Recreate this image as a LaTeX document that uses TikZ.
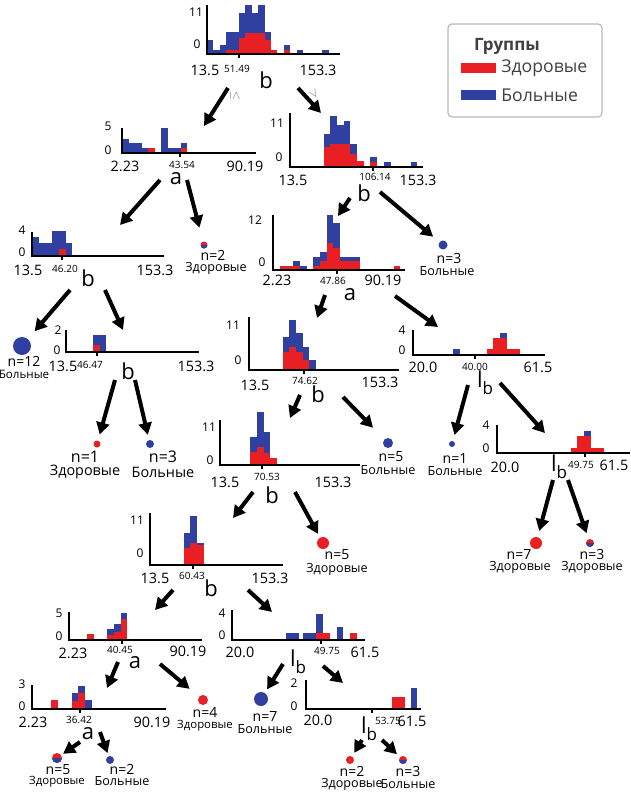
\documentclass[tikz,border=0pt]{standalone}
\usepackage{fontspec}
\setmainfont{Open Sans}
\usepackage{tikz}
\usetikzlibrary{arrows.meta}

\definecolor{healthy}{RGB}{232,32,36}
\definecolor{sick}{RGB}{48,64,160}
\newcommand{\lbsplit}{l\raisebox{-0.3em}{\fontsize{8.5}{8}\selectfont b}}

\begin{document}
\begin{tikzpicture}[x=0.5pt,y=-0.5pt,
  axis/.style={line width=1pt},
  arr/.style={line width=2pt,-{Triangle[length=6pt,width=6.5pt]}},
  ylab/.style={font=\fontsize{6}{6}\selectfont,inner sep=0pt},
  xlab/.style={font=\fontsize{7.2}{7}\selectfont,inner sep=0pt},
  thr/.style={font=\fontsize{5}{5}\selectfont,inner sep=0pt},
  split/.style={font=\fontsize{11}{11}\selectfont,inner sep=0pt},
  leaf/.style={circle,inner sep=0pt},
  hleaf/.style={leaf,fill=healthy},
  sleaf/.style={leaf,fill=sick},
  mleaf/.style={leaf,fill=healthy,path picture={\fill[sick] (path picture bounding box.west) rectangle (path picture bounding box.south east);}},
  nlab/.style={font=\fontsize{7}{7}\selectfont,inner sep=0pt},
  clab/.style={font=\fontsize{6.3}{6}\selectfont,inner sep=0pt},
  legtxt/.style={font=\fontsize{8.8}{9}\selectfont,text=black!75,inner sep=0pt,anchor=west}]
\useasboundingbox (0,0) rectangle (631,792);

% legend
\draw[gray!55,rounded corners=2pt,line width=0.6pt] (448,24) rectangle (602,117);
\node[font=\bfseries\fontsize{8.5}{9}\selectfont,text=black!75] (legtitle) at (507,46) {Группы};
\fill[healthy] (461,63) rectangle (496,73);
\node[legtxt] (leghealthy) at (501,68) {Здоровые};
\fill[sick] (461,90) rectangle (496,100);
\node[legtxt] (legsick) at (501,95) {Больные};

% root, split b
\begin{scope}[shift={(207,54)}]
  \foreach \i/\t/\r in {0/13.7/0,1/4.3/0,2/8.7/0,3/22/3.7,4/22/3.7,5/41/16,6/49/21,7/41/21,8/49/21,9/22/13.7,10/4.3/4.3,12/8.7/4.3,14/4.3/0,18/4.3/0}{
    \fill[sick] (\i*6.4,0) rectangle ++(6.4,-\t);
    \fill[healthy] (\i*6.4,0) rectangle ++(6.4,-\r);
  }
  \draw[axis] (0,-49) -- (0,0) -- (133,0);
  \draw[axis] (32,0) -- ++(0,4);
\end{scope}
\node[ylab] at (196,12) {11};
\node[ylab] at (197,44) {0};
\node[xlab] at (205,70) {13.5};
\node[thr] at (237,69) {51.49};
\node[xlab] at (318,70) {153.3};
\node[split] (s1) at (266,80) {b};
\node[rotate=-90,text=gray,font=\fontsize{5}{5}\selectfont,inner sep=0pt] at (235,96) {$\leq$};
\node[rotate=-60,text=gray,font=\fontsize{5}{5}\selectfont,inner sep=0pt] at (314,94) {$>$};

% level 2 left, split a
\begin{scope}[shift={(122,153)}]
  \foreach \i/\t/\r in {0/14/0,1/10/0,2/10/0,3/5/0,4/5/5,6/25/0,7/5/0,8/5/0,9/10/5}{
    \fill[sick] (\i*6.5,0) rectangle ++(6.5,-\t);
    \fill[healthy] (\i*6.5,0) rectangle ++(6.5,-\r);
  }
  \draw[axis] (0,-25) -- (0,0) -- (134,0);
  \draw[axis] (58,0) -- ++(0,4);
\end{scope}
\node[ylab] at (108,126) {5};
\node[ylab] at (108,150) {0};
\node[xlab] at (125,166) {2.23};
\node[thr] at (182,165) {43.54};
\node[xlab] at (245,166) {90.19};
\node[split] (s2) at (176,179) {a};

% level 2 right, split b
\begin{scope}[shift={(290,167)}]
  \foreach \i/\t/\r in {5/33/20,6/51/23,7/42/23,8/46/23,9/23/13,10/6/6,12/10/5,14/5/0,18/5/0}{
    \fill[sick] (\i*6.7,0) rectangle ++(6.7,-\t);
    \fill[healthy] (\i*6.7,0) rectangle ++(6.7,-\r);
  }
  \draw[axis] (0,-54) -- (0,0) -- (133,0);
  \draw[axis] (83,0) -- ++(0,4);
\end{scope}
\node[ylab] at (277,123) {11};
\node[ylab] at (279,157) {0};
\node[xlab] at (293,180) {13.5};
\node[thr] at (375,177) {106.14};
\node[xlab] at (418,180) {153.3};
\node[split] (s3) at (364,193) {b};

% level 3 left, split b
\begin{scope}[shift={(32,256)}]
  \foreach \i/\t/\r in {0/19/0,1/13/0,2/13/0,3/25/0,4/25/7,5/13/0}{
    \fill[sick] (\i*6.7,0) rectangle ++(6.7,-\t);
    \fill[healthy] (\i*6.7,0) rectangle ++(6.7,-\r);
  }
  \draw[axis] (0,-24) -- (0,0) -- (132,0);
  \draw[axis] (30,0) -- ++(0,4);
\end{scope}
\node[ylab] at (22,230) {4};
\node[ylab] at (22,252) {0};
\node[xlab] at (28,270) {13.5};
\node[thr] at (65,269) {46.20};
\node[xlab] at (155,270) {153.3};
\node[split] (s4) at (88,278) {b};

% level 4 left, split b
\begin{scope}[shift={(66,352)}]
  \foreach \i/\t/\r in {4/17/7,5/17/0}{
    \fill[sick] (\i*6.7,0) rectangle ++(6.7,-\t);
    \fill[healthy] (\i*6.7,0) rectangle ++(6.7,-\r);
  }
  \draw[axis] (0,-22) -- (0,0) -- (133,0);
  \draw[axis] (31,0) -- ++(0,4);
\end{scope}
\node[ylab] at (58,330) {2};
\node[ylab] at (57,350) {0};
\node[xlab] at (63,366) {13.5};
\node[thr] at (90,365) {46.47};
\node[xlab] at (196,366) {153.3};
\node[split] (s5) at (128,371) {b};

% level 3 middle, split a
\begin{scope}[shift={(273,270)}]
  \foreach \i/\t/\r in {1/4.3/4.3,2/4.3/4.3,3/9/4.3,4/4.3/0,6/13/4.3,7/18/9,8/55/27,9/47/22,10/13/9,11/13/9,12/13/9,18/4.3/4.3}{
    \fill[sick] (\i*6.7,0) rectangle ++(6.7,-\t);
    \fill[healthy] (\i*6.7,0) rectangle ++(6.7,-\r);
  }
  \draw[axis] (0,-55) -- (0,0) -- (132,0);
  \draw[axis] (64,0) -- ++(0,4);
\end{scope}
\node[ylab] at (255,220) {12};
\node[ylab] at (262,262) {0};
\node[xlab] at (277,280) {2.23};
\node[thr] at (333,281) {47.86};
\node[xlab] at (383,280) {90.19};
\node[split] (s6) at (350,295) {a};

% level 4 middle, split b
\begin{scope}[shift={(249,370)}]
  \foreach \i/\t/\r in {5/33/18,6/50/23,7/37/18,8/23/10,9/10/0}{
    \fill[sick] (\i*6.7,0) rectangle ++(6.7,-\t);
    \fill[healthy] (\i*6.7,0) rectangle ++(6.7,-\r);
  }
  \draw[axis] (0,-53) -- (0,0) -- (150,0);
  \draw[axis] (55,0) -- ++(0,4);
\end{scope}
\node[ylab] at (233,325) {11};
\node[ylab] at (238,360) {0};
\node[xlab] at (255,385) {13.5};
\node[thr] at (305,381) {74.62};
\node[xlab] at (380,382) {153.3};
\node[split] (s7) at (318,394) {b};

% level 4 right, split lb
\begin{scope}[shift={(413,355)}]
  \foreach \i/\t/\r in {6/6/0,11/6/6,12/17/17,13/22/17,14/6/6,15/6/6}{
    \fill[sick] (\i*6.7,0) rectangle ++(6.7,-\t);
    \fill[healthy] (\i*6.7,0) rectangle ++(6.7,-\r);
  }
  \draw[axis] (0,-25) -- (0,0) -- (132,0);
  \draw[axis] (62,0) -- ++(0,4);
\end{scope}
\node[ylab] at (402,330) {4};
\node[ylab] at (402,350) {0};
\node[xlab] at (423,367) {20.0};
\node[thr] at (475,367) {40.00};
\node[xlab] at (538,367) {61.5};
\node[split] (s8) at (485,383) {\lbsplit};

% level 5 right, split lb
\begin{scope}[shift={(497,453)}]
  \foreach \i/\t/\r in {11/5/5,12/17/17,13/22/17,14/5/5,15/5/5}{
    \fill[sick] (\i*6.7,0) rectangle ++(6.7,-\t);
    \fill[healthy] (\i*6.7,0) rectangle ++(6.7,-\r);
  }
  \draw[axis] (0,-28) -- (0,0) -- (133,0);
  \draw[axis] (88,0) -- ++(0,4);
\end{scope}
\node[ylab] at (486,425) {4};
\node[ylab] at (486,448) {0};
\node[xlab] at (505,467) {20.0};
\node[thr] at (581,465) {49.75};
\node[xlab] at (614,465) {61.5};
\node[split] (s9) at (559,467) {\lbsplit};

% level 5 middle, split b
\begin{scope}[shift={(220,465)}]
  \foreach \i/\t/\r in {4.5/28/13,5.5/53/18,6.5/33/12,7.5/7/7}{
    \fill[sick] (\i*6.7,0) rectangle ++(6.7,-\t);
    \fill[healthy] (\i*6.7,0) rectangle ++(6.7,-\r);
  }
  \draw[axis] (0,-45) -- (0,0) -- (140,0);
  \draw[axis] (42,0) -- ++(0,4);
\end{scope}
\node[ylab] at (209,427) {11};
\node[ylab] at (210,460) {0};
\node[xlab] at (225,482) {13.5};
\node[thr] at (267,477) {70.53};
\node[xlab] at (333,482) {153.3};
\node[split] (s10) at (272,495) {b};

% level 6, split b
\begin{scope}[shift={(150,565)}]
  \foreach \i/\t/\r in {5/32/17,6/49/22,7/22/20}{
    \fill[sick] (\i*6.7,0) rectangle ++(6.7,-\t);
    \fill[healthy] (\i*6.7,0) rectangle ++(6.7,-\r);
  }
  \draw[axis] (0,-52) -- (0,0) -- (133,0);
  \draw[axis] (43,0) -- ++(0,4);
\end{scope}
\node[ylab] at (137,520) {11};
\node[ylab] at (140,553) {0};
\node[xlab] at (155,578) {13.5};
\node[thr] at (192,576) {60.43};
\node[xlab] at (270,578) {153.3};
\node[split] (s11) at (211,588) {b};

% level 7 left, split a
\begin{scope}[shift={(69,640)}]
  \foreach \i/\t/\r in {2.7/6/6,5.7/11/5,6.7/16/8,7.7/27/21}{
    \fill[sick] (\i*6.7,0) rectangle ++(6.7,-\t);
    \fill[healthy] (\i*6.7,0) rectangle ++(6.7,-\r);
  }
  \draw[axis] (0,-28) -- (0,0) -- (133,0);
  \draw[axis] (53,0) -- ++(0,4);
\end{scope}
\node[ylab] at (59,613) {5};
\node[ylab] at (59,636) {0};
\node[xlab] at (73,653) {2.23};
\node[thr] at (120,650) {40.45};
\node[xlab] at (188,651) {90.19};
\node[split] (s12) at (135,663) {a};

% level 7 middle, split lb
\begin{scope}[shift={(232,640)}]
  \foreach \i/\t/\r in {8/7/0,9/7/0,10.6/7/0,11.6/7/0,12.6/26/7,13.6/7/7,15.6/13/0,17.6/7/7}{
    \fill[sick] (\i*6.7,0) rectangle ++(6.7,-\t);
    \fill[healthy] (\i*6.7,0) rectangle ++(6.7,-\r);
  }
  \draw[axis] (0,-30) -- (0,0) -- (133,0);
  \draw[axis] (89,0) -- ++(0,4);
\end{scope}
\node[ylab] at (222,613) {4};
\node[ylab] at (222,635) {0};
\node[xlab] at (240,652) {20.0};
\node[thr] at (327,651) {49.75};
\node[xlab] at (365,652) {61.5};
\node[split] (s13) at (298,662) {\lbsplit};

% level 8 left, split a
\begin{scope}[shift={(32,709)}]
  \foreach \i/\t/\r in {2.9/9/9,5.9/16/8,6.9/23/16,7.9/9/0}{
    \fill[sick] (\i*6.7,0) rectangle ++(6.7,-\t);
    \fill[healthy] (\i*6.7,0) rectangle ++(6.7,-\r);
  }
  \draw[axis] (0,-24) -- (0,0) -- (134,0);
  \draw[axis] (48,0) -- ++(0,4);
\end{scope}
\node[ylab] at (22,684) {3};
\node[ylab] at (22,706) {0};
\node[xlab] at (33,722) {2.23};
\node[thr] at (79,720) {36.42};
\node[xlab] at (152,722) {90.19};
\node[split] (s14) at (88,734) {a};

% level 8 right, split lb
\begin{scope}[shift={(306,709)}]
  \foreach \i/\t/\r in {12.8/12/12,13.8/12/12,15.6/21/0}{
    \fill[sick] (\i*6.7,0) rectangle ++(6.7,-\t);
    \fill[healthy] (\i*6.7,0) rectangle ++(6.7,-\r);
  }
  \draw[axis] (0,-29) -- (0,0) -- (115,0);
  \draw[axis] (66,0) -- ++(0,4);
\end{scope}
\node[ylab] at (294,683) {2};
\node[ylab] at (294,706) {0};
\node[xlab] at (318,720) {20.0};
\node[thr] at (388,721) {53.75};
\node[xlab] at (412,721) {61.5};
\node[split] (s15) at (369,729) {\lbsplit};

% leaves
\node[mleaf,minimum size=3.5pt] (n2h) at (204,245) {};
\node[nlab] at (213,255) {n=2};
\node[clab] at (216,268) {Здоровые};
\node[sleaf,minimum size=4.5pt] (n3s) at (443,245) {};
\node[nlab] at (449,258) {n=3};
\node[clab] at (447,271) {Больные};
\node[sleaf,minimum size=9pt] (n12s) at (22,346) {};
\node[nlab] at (24,361) {n=12};
\node[clab,font=\fontsize{5.8}{6}\selectfont] at (24,374) {Больные};
\node[hleaf,minimum size=3.5pt] (n1h) at (97,444) {};
\node[nlab,font=\fontsize{8}{8}\selectfont] at (85,457) {n=1};
\node[clab,font=\fontsize{7.2}{8}\selectfont] at (85,472) {Здоровые};
\node[sleaf,minimum size=4pt] (n3sb) at (150,444) {};
\node[nlab,font=\fontsize{8}{8}\selectfont] at (163,457) {n=3};
\node[clab,font=\fontsize{7.2}{8}\selectfont] at (163,472) {Больные};
\node[sleaf,minimum size=5pt] (n5s) at (388,443) {};
\node[nlab] at (391,457) {n=5};
\node[clab] at (388,470) {Больные};
\node[sleaf,minimum size=3pt] (n1s) at (452,444) {};
\node[nlab] at (455,458) {n=1};
\node[clab] at (455,471) {Больные};
\node[hleaf,minimum size=6pt] (n7h) at (536,543) {};
\node[nlab] at (519,554) {n=7};
\node[clab] at (520,567) {Здоровые};
\node[mleaf,minimum size=4pt] (n3h) at (590,543) {};
\node[nlab] at (592,554) {n=3};
\node[clab] at (592,567) {Здоровые};
\node[hleaf,minimum size=6pt] (n5h) at (323,543) {};
\node[nlab] at (337,555) {n=5};
\node[clab] at (337,569) {Здоровые};
\node[hleaf,minimum size=5pt] (n4h) at (203,700) {};
\node[nlab] at (205,712) {n=4};
\node[clab,font=\fontsize{5.7}{6}\selectfont] at (205,726) {Здоровые};
\node[sleaf,minimum size=7pt] (n7s) at (261,699) {};
\node[nlab] at (265,716) {n=7};
\node[clab] at (265,729) {Больные};
\node[mleaf,minimum size=5pt] (n5hb) at (57,758) {};
\node[nlab] at (58,770) {n=5};
\node[clab,font=\fontsize{5.7}{6}\selectfont] at (57,782) {Здоровые};
\node[sleaf,minimum size=4pt] (n2s) at (110,760) {};
\node[nlab] at (122,769) {n=2};
\node[clab] at (122,781) {Больные};
\node[hleaf,minimum size=4pt] (n2hb) at (350,760) {};
\node[nlab] at (352,771) {n=2};
\node[clab] at (352,784) {Здоровые};
\node[mleaf,minimum size=4pt] (n3sc) at (403,760) {};
\node[nlab] at (408,771) {n=3};
\node[clab] at (408,784) {Больные};

% arrow tails and heads
\coordinate (s1l) at (228,88);  \coordinate (s1r) at (298,88);
\coordinate (s2l) at (160,180); \coordinate (s2r) at (187,180);
\coordinate (s3l) at (350,198); \coordinate (s3r) at (380,192);
\coordinate (s4l) at (70,290);  \coordinate (s4r) at (105,290);
\coordinate (s5l) at (115,380); \coordinate (s5r) at (135,380);
\coordinate (s6l) at (325,295); \coordinate (s6r) at (395,296);
\coordinate (s7l) at (300,395); \coordinate (s7r) at (343,397);
\coordinate (s8l) at (468,385); \coordinate (s8r) at (500,383);
\coordinate (s9l) at (553,480); \coordinate (s9r) at (568,480);
\coordinate (s10l) at (253,492); \coordinate (s10r) at (295,492);
\coordinate (s11l) at (173,590); \coordinate (s11r) at (248,590);
\coordinate (s12l) at (118,662); \coordinate (s12r) at (160,664);
\coordinate (s13l) at (283,664); \coordinate (s13r) at (323,666);
\coordinate (s14l) at (80,742);  \coordinate (s14r) at (100,732);
\coordinate (s15l) at (362,740); \coordinate (s15r) at (382,740);
\coordinate (inB) at (204,126); \coordinate (inC) at (321,113);
\coordinate (inD) at (120,225); \coordinate (inE) at (123,330);
\coordinate (inF) at (338,216); \coordinate (inG) at (317,318);
\coordinate (inH) at (438,327); \coordinate (inI) at (545,433);
\coordinate (inJ) at (290,418); \coordinate (inK) at (233,518);
\coordinate (inL) at (155,610); \coordinate (inM) at (272,612);
\coordinate (inN) at (107,688); \coordinate (inO) at (343,683);

\draw[arr] (s1l) -- (inB);
\draw[arr] (s1r) -- (inC);
\draw[arr] (s2l) -- (inD);
\draw[arr,shorten >=7pt] (s2r) -- (n2h);
\draw[arr] (s3l) -- (inF);
\draw[arr,shorten >=4pt] (s3r) -- (n3s);
\draw[arr,shorten >=5pt] (s4l) -- (n12s);
\draw[arr] (s4r) -- (inE);
\draw[arr,shorten >=3pt] (s5l) -- (n1h);
\draw[arr,shorten >=2.5pt] (s5r) -- (n3sb);
\draw[arr] (s6l) -- (inG);
\draw[arr] (s6r) -- (inH);
\draw[arr] (s7l) -- (inJ);
\draw[arr,shorten >=8pt] (s7r) -- (n5s);
\draw[arr,shorten >=3pt] (s8l) -- (n1s);
\draw[arr] (s8r) -- (inI);
\draw[arr,shorten >=3pt] (s9l) -- (n7h);
\draw[arr,shorten >=3pt] (s9r) -- (n3h);
\draw[arr] (s10l) -- (inK);
\draw[arr,shorten >=2pt] (s10r) -- (n5h);
\draw[arr] (s11l) -- (inL);
\draw[arr] (s11r) -- (inM);
\draw[arr] (s12l) -- (inN);
\draw[arr,shorten >=6pt] (s12r) -- (n4h);
\draw[arr,shorten >=2pt] (s13l) -- (n7s);
\draw[arr] (s13r) -- (inO);
\draw[arr,shorten >=1pt] (s14l) -- (n5hb);
\draw[arr,shorten >=1.5pt] (s14r) -- (n2s);
\draw[arr,shorten >=2pt] (s15l) -- (n2hb);
\draw[arr,shorten >=2pt] (s15r) -- (n3sc);
\end{tikzpicture}
\end{document}
